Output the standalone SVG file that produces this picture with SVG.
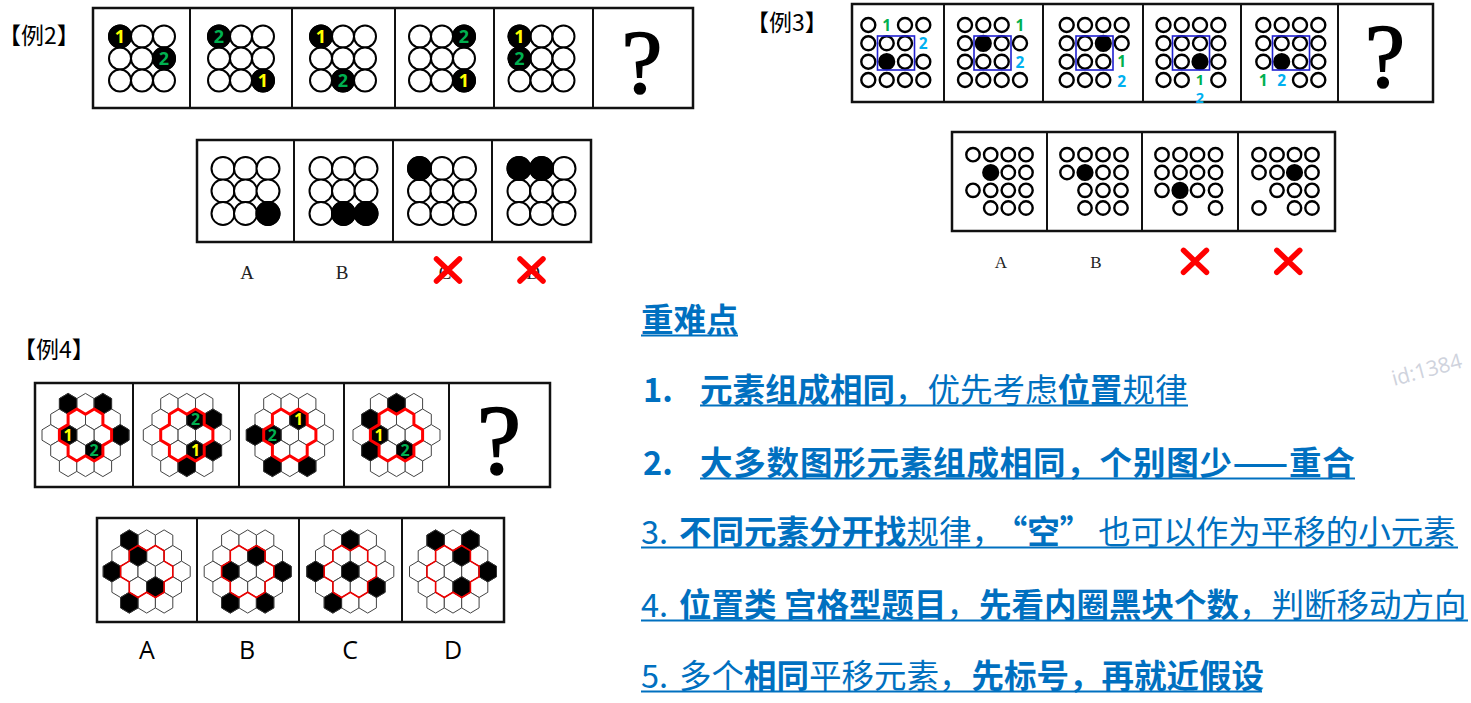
<svg xmlns="http://www.w3.org/2000/svg" xmlns:xlink="http://www.w3.org/1999/xlink" width="1471" height="703" viewBox="0 0 1471 703">
<style>
.bg{fill:#fff}
.fr{fill:none;stroke:#111;stroke-width:2.5}
.dv{stroke:#111;stroke-width:2}
.cw{fill:#fff;stroke:#000;stroke-width:2}
.cw3{fill:#fff;stroke:#000;stroke-width:2.4}
.cb{fill:#000;stroke:#000;stroke-width:2}
.hw{fill:#fff;stroke:#444;stroke-width:1}
.hb{fill:#000;stroke:#333;stroke-width:1}
.ring{fill:none;stroke:#f00;stroke-width:3;stroke-linejoin:round}
.ring2{fill:none;stroke:#e00;stroke-width:1.6}
.n{font-family:"Open Sans","Noto Sans",sans-serif;font-weight:700;text-anchor:middle}
.n18{font-size:18px}
.n17{font-size:15.5px}
.n15{font-size:14.5px}
.n16{font-size:16px}
.y{fill:#ffff00}
.g{fill:#00b050}
.c{fill:#00b0f0}
.q{font-family:"Liberation Serif",serif;text-anchor:middle;fill:#000;stroke:#000;stroke-width:1.6}
.x{stroke:#f00;stroke-width:5.5;stroke-linecap:round;fill:none}
.lab{font-family:"Noto Sans CJK SC",sans-serif;font-size:23px;fill:#000}
.sl{font-family:"Liberation Serif",serif;fill:#222;text-anchor:middle}
.al{font-family:"Open Sans","Liberation Sans",sans-serif;font-size:25px;fill:#000;text-anchor:middle}
.bl{font-family:"Noto Sans CJK SC",sans-serif;font-size:32.5px;fill:#0070c0}
.b{font-weight:700}
.ul{stroke:#0070c0;stroke-width:2}
.box{fill:none;stroke:#2020d0;stroke-width:1.6}
.wm{font-family:"Open Sans",sans-serif;font-size:21px;fill:#cfd3dd}
</style>
<defs>
<circle id="c11" r="11"/>
<circle id="c115" r="11.5"/>
<circle id="c7" r="7"/>
<circle id="c67" r="6.7"/>
<circle id="k7" r="7.6"/>
<path id="hx" d="M0,-10.4L8.7,-5.2L8.7,5.2L0,10.4L-8.7,5.2L-8.7,-5.2Z"/>
<path id="ring" d="M-8.7,-26L0,-20.8L8.7,-26L17.4,-20.8L17.4,-10.4L26.1,-5.2L26.1,5.2L17.4,10.4L17.4,20.8L8.7,26L0,20.8L-8.7,26L-17.4,20.8L-17.4,10.4L-26.1,5.2L-26.1,-5.2L-17.4,-10.4L-17.4,-20.8Z"/>
<path id="xm" d="M-11.5,-11L11.5,11M11.5,-11L-11.5,11"/>
<g id="g3">
<use href="#c11" class="cw" x="-22" y="-22"/><use href="#c11" class="cw" x="0" y="-22"/><use href="#c11" class="cw" x="22" y="-22"/>
<use href="#c11" class="cw" x="-22" y="0"/><use href="#c11" class="cw" x="0" y="0"/><use href="#c11" class="cw" x="22" y="0"/>
<use href="#c11" class="cw" x="-22" y="22"/><use href="#c11" class="cw" x="0" y="22"/><use href="#c11" class="cw" x="22" y="22"/>
</g>
<g id="g3b">
<use href="#c115" class="cw" x="-22.5" y="-22.5"/><use href="#c115" class="cw" x="0" y="-22.5"/><use href="#c115" class="cw" x="22.5" y="-22.5"/>
<use href="#c115" class="cw" x="-22.5" y="0"/><use href="#c115" class="cw" x="0" y="0"/><use href="#c115" class="cw" x="22.5" y="0"/>
<use href="#c115" class="cw" x="-22.5" y="22.5"/><use href="#c115" class="cw" x="0" y="22.5"/><use href="#c115" class="cw" x="22.5" y="22.5"/>
</g>
<g id="hg">
<use href="#hx" class="hw" x="-17.4" y="-31.2"/><use href="#hx" class="hw" x="0" y="-31.2"/><use href="#hx" class="hw" x="17.4" y="-31.2"/>
<use href="#hx" class="hw" x="-26.1" y="-15.6"/><use href="#hx" class="hw" x="-8.7" y="-15.6"/><use href="#hx" class="hw" x="8.7" y="-15.6"/><use href="#hx" class="hw" x="26.1" y="-15.6"/>
<use href="#hx" class="hw" x="-34.8" y="0"/><use href="#hx" class="hw" x="-17.4" y="0"/><use href="#hx" class="hw" x="0" y="0"/><use href="#hx" class="hw" x="17.4" y="0"/><use href="#hx" class="hw" x="34.8" y="0"/>
<use href="#hx" class="hw" x="-26.1" y="15.6"/><use href="#hx" class="hw" x="-8.7" y="15.6"/><use href="#hx" class="hw" x="8.7" y="15.6"/><use href="#hx" class="hw" x="26.1" y="15.6"/>
<use href="#hx" class="hw" x="-17.4" y="31.2"/><use href="#hx" class="hw" x="0" y="31.2"/><use href="#hx" class="hw" x="17.4" y="31.2"/>
</g>
</defs>
<rect class="bg" x="0" y="0" width="1471" height="703"/>

<!-- Example 2 -->
<g id="ex2-label"><text class="lab" x="-2" y="44">【例2】</text></g>
<g id="ex2-question">
<rect class="fr" x="93" y="8" width="600" height="100"/>
<line class="dv" x1="190" y1="8" x2="190" y2="108"/><line class="dv" x1="292" y1="8" x2="292" y2="108"/><line class="dv" x1="395" y1="8" x2="395" y2="108"/><line class="dv" x1="494" y1="8" x2="494" y2="108"/><line class="dv" x1="593" y1="8" x2="593" y2="108"/>
<g id="ex2-p1"><use href="#g3" x="142" y="58.5"/>
<use href="#c11" class="cb" x="120" y="36.5"/><use href="#c11" class="cb" x="164" y="58.5"/>
<text class="n n18 y" x="120" y="43">1</text><text class="n n18 g" x="164" y="65">2</text></g>
<g id="ex2-p2"><use href="#g3" x="241" y="58.5"/>
<use href="#c11" class="cb" x="219" y="36.5"/><use href="#c11" class="cb" x="263" y="80.5"/>
<text class="n n18 g" x="219" y="43">2</text><text class="n n18 y" x="263" y="87">1</text></g>
<g id="ex2-p3"><use href="#g3" x="343" y="58.5"/>
<use href="#c11" class="cb" x="321" y="36.5"/><use href="#c11" class="cb" x="343" y="80.5"/>
<text class="n n18 y" x="321" y="43">1</text><text class="n n18 g" x="343" y="87">2</text></g>
<g id="ex2-p4"><use href="#g3" x="442" y="58.5"/>
<use href="#c11" class="cb" x="464" y="36.5"/><use href="#c11" class="cb" x="464" y="80.5"/>
<text class="n n18 g" x="464" y="43">2</text><text class="n n18 y" x="464" y="87">1</text></g>
<g id="ex2-p5"><use href="#g3" x="541.5" y="58.5"/>
<use href="#c11" class="cb" x="519.5" y="36.5"/><use href="#c11" class="cb" x="519.5" y="58.5"/>
<text class="n n18 y" x="519.5" y="43">1</text><text class="n n18 g" x="519.5" y="65">2</text></g>
<g id="ex2-p6"><text class="q" x="642" y="93" font-size="92">?</text></g>
</g>
<g id="ex2-options">
<rect class="fr" x="197" y="140" width="394" height="102"/>
<line class="dv" x1="294" y1="140" x2="294" y2="242"/><line class="dv" x1="393" y1="140" x2="393" y2="242"/><line class="dv" x1="492" y1="140" x2="492" y2="242"/>
<g id="ex2-oA"><use href="#g3b" x="245.5" y="191"/><use href="#c115" class="cb" x="268" y="213.5"/></g>
<g id="ex2-oB"><use href="#g3b" x="343.5" y="191"/><use href="#c115" class="cb" x="343.5" y="213.5"/><use href="#c115" class="cb" x="366" y="213.5"/></g>
<g id="ex2-oC"><use href="#g3b" x="442" y="191"/><use href="#c115" class="cb" x="419.5" y="168.5"/></g>
<g id="ex2-oD"><use href="#g3b" x="541.5" y="191"/><use href="#c115" class="cb" x="519" y="168.5"/><use href="#c115" class="cb" x="541.5" y="168.5"/></g>
<text class="sl" x="247" y="279" font-size="19">A</text>
<text class="sl" x="342" y="279" font-size="19">B</text>
<text class="sl" x="445" y="279" font-size="19" fill="#777">C</text>
<text class="sl" x="533" y="279" font-size="19" fill="#777">D</text>
<use href="#xm" class="x" x="448" y="270"/>
<use href="#xm" class="x" x="531.5" y="270"/>
</g>

<!-- Example 3 -->
<g id="ex3-label"><text class="lab" x="746" y="31">【例3】</text></g>
<g id="ex3-question">
<rect class="fr" x="852" y="4" width="581" height="98"/>
<line class="dv" x1="944" y1="4" x2="944" y2="102"/><line class="dv" x1="1043" y1="4" x2="1043" y2="102"/><line class="dv" x1="1143" y1="4" x2="1143" y2="102"/><line class="dv" x1="1241" y1="4" x2="1241" y2="102"/><line class="dv" x1="1338" y1="4" x2="1338" y2="102"/>
<g id="ex3-p1">
<use href="#c7" class="cw3" x="868.3" y="25"/><use href="#c7" class="cw3" x="905" y="25"/><use href="#c7" class="cw3" x="923.3" y="25"/>
<use href="#c7" class="cw3" x="868.3" y="43.3"/><use href="#c7" class="cw3" x="886.7" y="43.3"/><use href="#c7" class="cw3" x="905" y="43.3"/>
<use href="#c7" class="cw3" x="868.3" y="61.7"/><use href="#k7" class="cb" x="886.7" y="61.7"/><use href="#c7" class="cw3" x="905" y="61.7"/><use href="#c7" class="cw3" x="923.3" y="61.7"/>
<use href="#c7" class="cw3" x="868.3" y="80"/><use href="#c7" class="cw3" x="886.7" y="80"/><use href="#c7" class="cw3" x="905" y="80"/><use href="#c7" class="cw3" x="923.3" y="80"/>
<rect class="box" x="877.5" y="36" width="37" height="34"/>
<text class="n n17 g" x="886.7" y="31">1</text><text class="n n17 c" x="923.3" y="49.3">2</text>
</g>
<g id="ex3-p2">
<use href="#c7" class="cw3" x="965" y="25"/><use href="#c7" class="cw3" x="983.3" y="25"/><use href="#c7" class="cw3" x="1001.7" y="25"/>
<use href="#c7" class="cw3" x="965" y="43.3"/><use href="#k7" class="cb" x="983.3" y="43.3"/><use href="#c7" class="cw3" x="1001.7" y="43.3"/><use href="#c7" class="cw3" x="1020" y="43.3"/>
<use href="#c7" class="cw3" x="965" y="61.7"/><use href="#c7" class="cw3" x="983.3" y="61.7"/><use href="#c7" class="cw3" x="1001.7" y="61.7"/>
<use href="#c7" class="cw3" x="965" y="80"/><use href="#c7" class="cw3" x="983.3" y="80"/><use href="#c7" class="cw3" x="1001.7" y="80"/><use href="#c7" class="cw3" x="1020" y="80"/>
<rect class="box" x="974" y="36" width="37" height="34"/>
<text class="n n17 g" x="1020" y="31">1</text><text class="n n17 c" x="1020" y="67.7">2</text>
</g>
<g id="ex3-p3">
<use href="#c7" class="cw3" x="1066.7" y="25"/><use href="#c7" class="cw3" x="1085" y="25"/><use href="#c7" class="cw3" x="1103.3" y="25"/><use href="#c7" class="cw3" x="1121.7" y="25"/>
<use href="#c7" class="cw3" x="1066.7" y="43.3"/><use href="#c7" class="cw3" x="1085" y="43.3"/><use href="#k7" class="cb" x="1103.3" y="43.3"/><use href="#c7" class="cw3" x="1121.7" y="43.3"/>
<use href="#c7" class="cw3" x="1066.7" y="61.7"/><use href="#c7" class="cw3" x="1085" y="61.7"/><use href="#c7" class="cw3" x="1103.3" y="61.7"/>
<use href="#c7" class="cw3" x="1066.7" y="80"/><use href="#c7" class="cw3" x="1085" y="80"/><use href="#c7" class="cw3" x="1103.3" y="80"/>
<rect class="box" x="1076" y="36" width="37" height="34"/>
<text class="n n17 g" x="1121.7" y="67">1</text><text class="n n17 c" x="1121.7" y="86.5">2</text>
</g>
<g id="ex3-p4">
<use href="#c7" class="cw3" x="1163.5" y="25"/><use href="#c7" class="cw3" x="1181.8" y="25"/><use href="#c7" class="cw3" x="1200" y="25"/><use href="#c7" class="cw3" x="1218.3" y="25"/>
<use href="#c7" class="cw3" x="1163.5" y="43.3"/><use href="#c7" class="cw3" x="1181.8" y="43.3"/><use href="#c7" class="cw3" x="1200" y="43.3"/><use href="#c7" class="cw3" x="1218.3" y="43.3"/>
<use href="#c7" class="cw3" x="1163.5" y="61.7"/><use href="#c7" class="cw3" x="1181.8" y="61.7"/><use href="#k7" class="cb" x="1200" y="61.7"/><use href="#c7" class="cw3" x="1218.3" y="61.7"/>
<use href="#c7" class="cw3" x="1163.5" y="80"/><use href="#c7" class="cw3" x="1181.8" y="80"/><use href="#c7" class="cw3" x="1218.3" y="80"/>
<rect class="box" x="1172.5" y="36" width="37" height="34"/>
<text class="n n15 g" x="1200" y="85">1</text><text class="n n15 c" x="1200" y="103">2</text>
</g>
<g id="ex3-p5">
<use href="#c7" class="cw3" x="1263.3" y="25"/><use href="#c7" class="cw3" x="1281.7" y="25"/><use href="#c7" class="cw3" x="1300" y="25"/><use href="#c7" class="cw3" x="1318.3" y="25"/>
<use href="#c7" class="cw3" x="1263.3" y="43.3"/><use href="#c7" class="cw3" x="1281.7" y="43.3"/><use href="#c7" class="cw3" x="1300" y="43.3"/><use href="#c7" class="cw3" x="1318.3" y="43.3"/>
<use href="#c7" class="cw3" x="1263.3" y="61.7"/><use href="#k7" class="cb" x="1281.7" y="61.7"/><use href="#c7" class="cw3" x="1300" y="61.7"/><use href="#c7" class="cw3" x="1318.3" y="61.7"/>
<use href="#c7" class="cw3" x="1300" y="80"/><use href="#c7" class="cw3" x="1318.3" y="80"/>
<rect class="box" x="1272.5" y="36" width="37" height="34"/>
<text class="n n17 g" x="1263.3" y="86">1</text><text class="n n17 c" x="1281.7" y="86">2</text>
</g>
<g id="ex3-p6"><text class="q" x="1385" y="87" font-size="90">?</text></g>
</g>
<g id="ex3-options">
<rect class="fr" x="952" y="132" width="383" height="99"/>
<line class="dv" x1="1047" y1="132" x2="1047" y2="231"/><line class="dv" x1="1142" y1="132" x2="1142" y2="231"/><line class="dv" x1="1238" y1="132" x2="1238" y2="231"/>
<g id="ex3-oA">
<use href="#c67" class="cw3" x="973" y="154.7"/><use href="#c67" class="cw3" x="990.7" y="154.7"/><use href="#c67" class="cw3" x="1008.3" y="154.7"/><use href="#c67" class="cw3" x="1026" y="154.7"/>
<use href="#k7" class="cb" x="990.7" y="172.5"/><use href="#c67" class="cw3" x="1008.3" y="172.5"/><use href="#c67" class="cw3" x="1026" y="172.5"/>
<use href="#c67" class="cw3" x="973" y="190.3"/><use href="#c67" class="cw3" x="990.7" y="190.3"/><use href="#c67" class="cw3" x="1008.3" y="190.3"/><use href="#c67" class="cw3" x="1026" y="190.3"/>
<use href="#c67" class="cw3" x="990.7" y="208"/><use href="#c67" class="cw3" x="1008.3" y="208"/><use href="#c67" class="cw3" x="1026" y="208"/>
</g>
<g id="ex3-oB">
<use href="#c67" class="cw3" x="1067" y="154.7"/><use href="#c67" class="cw3" x="1085" y="154.7"/><use href="#c67" class="cw3" x="1103" y="154.7"/><use href="#c67" class="cw3" x="1121" y="154.7"/>
<use href="#c67" class="cw3" x="1067" y="172.5"/><use href="#k7" class="cb" x="1085" y="172.5"/><use href="#c67" class="cw3" x="1103" y="172.5"/><use href="#c67" class="cw3" x="1121" y="172.5"/>
<use href="#c67" class="cw3" x="1085" y="190.3"/><use href="#c67" class="cw3" x="1103" y="190.3"/><use href="#c67" class="cw3" x="1121" y="190.3"/>
<use href="#c67" class="cw3" x="1085" y="208"/><use href="#c67" class="cw3" x="1103" y="208"/><use href="#c67" class="cw3" x="1121" y="208"/>
</g>
<g id="ex3-oC">
<use href="#c67" class="cw3" x="1162" y="154.7"/><use href="#c67" class="cw3" x="1180" y="154.7"/><use href="#c67" class="cw3" x="1197.5" y="154.7"/><use href="#c67" class="cw3" x="1215.5" y="154.7"/>
<use href="#c67" class="cw3" x="1162" y="172.5"/><use href="#c67" class="cw3" x="1180" y="172.5"/><use href="#c67" class="cw3" x="1197.5" y="172.5"/><use href="#c67" class="cw3" x="1215.5" y="172.5"/>
<use href="#c67" class="cw3" x="1162" y="190.3"/><use href="#k7" class="cb" x="1180" y="190.3"/><use href="#c67" class="cw3" x="1197.5" y="190.3"/><use href="#c67" class="cw3" x="1215.5" y="190.3"/>
<use href="#c67" class="cw3" x="1180" y="208"/><use href="#c67" class="cw3" x="1215.5" y="208"/>
</g>
<g id="ex3-oD">
<use href="#c67" class="cw3" x="1259" y="154.7"/><use href="#c67" class="cw3" x="1277" y="154.7"/><use href="#c67" class="cw3" x="1294.5" y="154.7"/><use href="#c67" class="cw3" x="1312" y="154.7"/>
<use href="#c67" class="cw3" x="1259" y="172.5"/><use href="#c67" class="cw3" x="1277" y="172.5"/><use href="#k7" class="cb" x="1294.5" y="172.5"/><use href="#c67" class="cw3" x="1312" y="172.5"/>
<use href="#c67" class="cw3" x="1277" y="190.3"/><use href="#c67" class="cw3" x="1294.5" y="190.3"/><use href="#c67" class="cw3" x="1312" y="190.3"/>
<use href="#c67" class="cw3" x="1259" y="208"/><use href="#c67" class="cw3" x="1294.5" y="208"/><use href="#c67" class="cw3" x="1312" y="208"/>
</g>
<text class="sl" x="1001" y="268" font-size="17">A</text>
<text class="sl" x="1096" y="268" font-size="17">B</text>
<use href="#xm" class="x" x="1195" y="261.3"/>
<use href="#xm" class="x" x="1288.3" y="261.3"/>
</g>

<!-- Example 4 -->
<g id="ex4-label"><text class="lab" x="13" y="358">【例4】</text></g>
<g id="ex4-question">
<rect class="fr" x="35" y="383" width="515" height="104"/>
<line class="dv" x1="133" y1="383" x2="133" y2="487"/><line class="dv" x1="239" y1="383" x2="239" y2="487"/><line class="dv" x1="344" y1="383" x2="344" y2="487"/><line class="dv" x1="449" y1="383" x2="449" y2="487"/>
<g id="ex4-p1"><use href="#hg" x="85.5" y="435"/>
<use href="#hx" class="hb" x="68.1" y="403.8"/><use href="#hx" class="hb" x="102.9" y="403.8"/><use href="#hx" class="hb" x="68.1" y="435"/><use href="#hx" class="hb" x="120.3" y="435"/><use href="#hx" class="hb" x="94.2" y="450.6"/>
<use href="#ring" class="ring" x="85.5" y="435"/>
<text class="n n16 y" x="68.1" y="440.5">1</text><text class="n n16 g" x="94.2" y="456.1">2</text></g>
<g id="ex4-p2"><use href="#hg" x="186.8" y="435"/>
<use href="#hx" class="hb" x="195.5" y="419.4"/><use href="#hx" class="hb" x="212.9" y="419.4"/><use href="#hx" class="hb" x="195.5" y="450.6"/><use href="#hx" class="hb" x="212.9" y="450.6"/><use href="#hx" class="hb" x="186.8" y="466.2"/>
<use href="#ring" class="ring" x="186.8" y="435"/>
<text class="n n16 g" x="195.5" y="424.9">2</text><text class="n n16 y" x="195.5" y="456.1">1</text></g>
<g id="ex4-p3"><use href="#hg" x="289.8" y="435"/>
<use href="#hx" class="hb" x="298.5" y="419.4"/><use href="#hx" class="hb" x="255" y="435"/><use href="#hx" class="hb" x="272.4" y="435"/><use href="#hx" class="hb" x="272.4" y="466.2"/><use href="#hx" class="hb" x="307.2" y="466.2"/>
<use href="#ring" class="ring" x="289.8" y="435"/>
<text class="n n16 y" x="298.5" y="424.9">1</text><text class="n n16 g" x="272.4" y="440.5">2</text></g>
<g id="ex4-p4"><use href="#hg" x="396.5" y="435"/>
<use href="#hx" class="hb" x="396.5" y="403.8"/><use href="#hx" class="hb" x="370.4" y="419.4"/><use href="#hx" class="hb" x="379.1" y="435"/><use href="#hx" class="hb" x="370.4" y="450.6"/><use href="#hx" class="hb" x="405.2" y="450.6"/>
<use href="#ring" class="ring" x="396.5" y="435"/>
<text class="n n16 y" x="379.1" y="440.5">1</text><text class="n n16 g" x="405.2" y="456.1">2</text></g>
<g id="ex4-p5"><text class="q" x="499" y="473" font-size="100">?</text></g>
</g>
<g id="ex4-options">
<rect class="fr" x="97" y="518" width="407" height="104"/>
<line class="dv" x1="197" y1="518" x2="197" y2="622"/><line class="dv" x1="299" y1="518" x2="299" y2="622"/><line class="dv" x1="402" y1="518" x2="402" y2="622"/>
<g id="ex4-oA"><use href="#hg" x="146.7" y="571.5"/>
<use href="#hx" class="hb" x="129.3" y="540.3"/><use href="#hx" class="hb" x="138" y="555.9"/><use href="#hx" class="hb" x="111.9" y="571.5"/><use href="#hx" class="hb" x="155.4" y="587.1"/><use href="#hx" class="hb" x="129.3" y="602.7"/>
<use href="#ring" class="ring2" x="146.7" y="571.5"/></g>
<g id="ex4-oB"><use href="#hg" x="247.7" y="571.5"/>
<use href="#hx" class="hb" x="256.4" y="555.9"/><use href="#hx" class="hb" x="230.3" y="571.5"/><use href="#hx" class="hb" x="282.5" y="571.5"/><use href="#hx" class="hb" x="230.3" y="602.7"/><use href="#hx" class="hb" x="265.1" y="602.7"/>
<use href="#ring" class="ring2" x="247.7" y="571.5"/></g>
<g id="ex4-oC"><use href="#hg" x="350.3" y="571.5"/>
<use href="#hx" class="hb" x="350.3" y="540.3"/><use href="#hx" class="hb" x="315.5" y="571.5"/><use href="#hx" class="hb" x="350.3" y="571.5"/><use href="#hx" class="hb" x="376.4" y="587.1"/><use href="#hx" class="hb" x="332.9" y="602.7"/>
<use href="#ring" class="ring2" x="350.3" y="571.5"/></g>
<g id="ex4-oD"><use href="#hg" x="453" y="571.5"/>
<use href="#hx" class="hb" x="435.6" y="540.3"/><use href="#hx" class="hb" x="470.4" y="540.3"/><use href="#hx" class="hb" x="461.7" y="555.9"/><use href="#hx" class="hb" x="487.8" y="571.5"/><use href="#hx" class="hb" x="461.7" y="587.1"/>
<use href="#ring" class="ring2" x="453" y="571.5"/></g>
<text class="al" x="147" y="659">A</text>
<text class="al" x="247" y="659">B</text>
<text class="al" x="350" y="659">C</text>
<text class="al" x="453" y="659">D</text>
</g>

<!-- Key points text -->
<g id="keypoints">
<text class="bl b" x="641" y="332">重难点</text>
<line class="ul" x1="641" y1="335.5" x2="738" y2="335.5"/>
<text class="bl b" x="643" y="402">1.</text>
<text class="bl" x="700" y="402"><tspan class="b">元素组成相同</tspan>，优先考虑<tspan class="b">位置</tspan>规律</text>
<line class="ul" x1="700" y1="405.5" x2="1188" y2="405.5"/>
<text class="bl b" x="643" y="475">2.</text>
<text class="bl b" x="700" y="475" letter-spacing="0.8">大多数图形元素组成相同，个别图少——重合</text>
<line class="ul" x1="700" y1="478.5" x2="1355" y2="478.5"/>
<text class="bl" x="641" y="544">3.</text>
<text class="bl" x="679" y="544"><tspan class="b">不同元素分开找</tspan>规律，<tspan class="b" dx="7">“空”</tspan><tspan dx="6">也可以作为平移的小元素</tspan></text>
<line class="ul" x1="641" y1="547.5" x2="1458" y2="547.5"/>
<text class="bl" x="641" y="617">4.</text>
<text class="bl" x="679" y="617"><tspan class="b">位置类 宫格型题目</tspan>，<tspan class="b">先看内圈黑块个数</tspan>，判断移动方向</text>
<line class="ul" x1="641" y1="620.5" x2="1468" y2="620.5"/>
<text class="bl" x="641" y="688">5.</text>
<text class="bl" x="679" y="688">多个<tspan class="b">相同</tspan>平移元素，<tspan class="b">先标号，再就近假设</tspan></text>
<line class="ul" x1="641" y1="691.5" x2="1262" y2="691.5"/>
</g>
<g id="watermark"><text class="wm" x="1394" y="386" transform="rotate(-15 1394 386)">id:1384</text></g>
</svg>
